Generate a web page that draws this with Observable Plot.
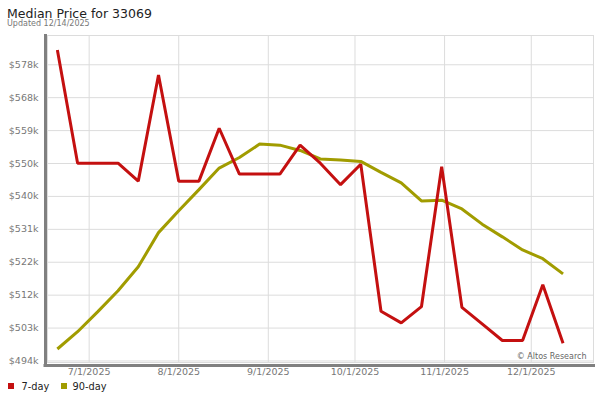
<!DOCTYPE html>
<html>
<head>
<meta charset="utf-8">
<script src="https://cdn.jsdelivr.net/npm/d3@7"></script>
<script src="https://cdn.jsdelivr.net/npm/@observablehq/plot@0.6"></script>
<style>
  body { margin: 0; background: #fff; font-family: "DejaVu Sans", sans-serif; }
  #wrap { position: relative; width: 600px; height: 400px; overflow: hidden; background: #fff; }
  #title { position: absolute; left: 7px; top: 7.7px; font-size: 12.5px; line-height: 12.5px; color: #222; white-space: nowrap; }
  #subtitle { position: absolute; left: 7px; top: 20.2px; font-size: 8px; line-height: 8px; color: #777; white-space: nowrap; }
  #chart { position: absolute; left: 0; top: 30px; }
  #legend { position: absolute; left: 0; top: 381.7px; font-size: 9.8px; line-height: 9.8px; color: #222; white-space: nowrap; }
  .sw { position: absolute; top: 1.6px; width: 6px; height: 6px; }
  .lt { position: absolute; top: 0; }
</style>
</head>
<body>
<div id="wrap">
  <div id="title">Median Price for 33069</div>
  <div id="subtitle">Updated 12/14/2025</div>
  <div id="chart"></div>
  <div id="legend"></div>
</div>
<script>
// ---- data ----
const weeks = [
  "2025-06-20","2025-06-27","2025-07-04","2025-07-11","2025-07-18","2025-07-25",
  "2025-08-01","2025-08-08","2025-08-15","2025-08-22","2025-08-29","2025-09-05",
  "2025-09-12","2025-09-19","2025-09-26","2025-10-03","2025-10-10","2025-10-17",
  "2025-10-24","2025-10-31","2025-11-07","2025-11-14","2025-11-21","2025-11-28",
  "2025-12-05","2025-12-12"
];
const sevenDay = [
  582400, 550300, 550300, 550300, 545200, 575300,
  545200, 545200, 560200, 547200, 547200, 547200,
  555400, 550300, 544200, 550000, 508300, 505000,
  509600, 549300, 509400, 504700, 500000, 500000,
  515800, 499200
];
const ninetyDay = [
  497600, 502500, 508200, 514100, 520900, 530600,
  536800, 542800, 548900, 551900, 555700, 555400,
  553900, 551500, 551200, 550800, 547700, 544700,
  539600, 539800, 537300, 533000, 529400, 525700,
  523200, 518900
];
const seriesNames = ["7-day", "90-day"];
const seriesColors = ["#c41010", "#a19c00"];
const xTicks = ["2025-07-01","2025-08-01","2025-09-01","2025-10-01","2025-11-01","2025-12-01"];
const yTicks = [494200, 503530, 512870, 522200, 531530, 540870, 550200, 559530, 568870, 578200];
const xDomain = ["2025-06-16T14:00:00Z", "2025-12-22T13:00:00Z"];
const yDomain = [493770, 586500];
const watermark = "© Altos Research";

// ---- build ----
const rows = [];
weeks.forEach((w, i) => {
  rows.push({date: new Date(w + "T00:00:00Z"), value: ninetyDay[i], series: seriesNames[1]});
});
weeks.forEach((w, i) => {
  rows.push({date: new Date(w + "T00:00:00Z"), value: sevenDay[i], series: seriesNames[0]});
});
const xd = xDomain.map(d => new Date(d));
const xt = xTicks.map(d => new Date(d + "T00:00:00Z"));

const plot = Plot.plot({
  width: 600,
  height: 352,
  marginTop: 5,
  marginLeft: 47,
  marginRight: 7,
  marginBottom: 20,
  style: {fontFamily: "DejaVu Sans, sans-serif", fontSize: "9.5px", color: "#777", background: "transparent"},
  x: {type: "utc", domain: xd, label: null},
  y: {domain: yDomain, label: null},
  color: {domain: seriesNames, range: seriesColors},
  marks: [
    Plot.gridX(xt, {stroke: "#dcdcdc", strokeOpacity: 1, strokeWidth: 1}),
    Plot.gridY(yTicks, {stroke: "#dcdcdc", strokeOpacity: 1, strokeWidth: 1}),
    Plot.frame({stroke: "#dcdcdc", strokeWidth: 1}),
    Plot.axisX(xt, {tickSize: 0, tickPadding: 6, tickFormat: d3.utcFormat("%-m/%-d/%Y"), label: null, fill: "#777"}),
    Plot.axisY(yTicks, {tickSize: 0, tickPadding: 9, tickFormat: d => "$" + Math.floor(d / 1000) + "k", label: null, fill: "#777"}),
    Plot.ruleX([xd[0]], {stroke: "#808080", strokeWidth: 3, dx: -2, insetTop: -1, insetBottom: -4}),
    Plot.ruleY([yDomain[0]], {stroke: "#808080", strokeWidth: 3, dy: 3, insetLeft: -3.5, insetRight: -2}),
    Plot.text([watermark], {frameAnchor: "bottom-right", dx: -7, dy: -4, fontSize: 8, fill: "#666"}),
    Plot.line(rows, {x: "date", y: "value", z: "series", stroke: "series", strokeWidth: 3, strokeLinejoin: "miter", strokeLinecap: "butt"})
  ]
});
document.getElementById("chart").appendChild(plot);

// legend
const legend = document.getElementById("legend");
const swX = [8, 61];
const txX = [21.5, 72.5];
seriesNames.forEach((name, i) => {
  const sw = document.createElement("div");
  sw.className = "sw";
  sw.style.left = swX[i] + "px";
  sw.style.background = seriesColors[i];
  legend.appendChild(sw);
  const t = document.createElement("div");
  t.className = "lt";
  t.style.left = txX[i] + "px";
  t.textContent = name;
  legend.appendChild(t);
});
</script>
</body>
</html>
